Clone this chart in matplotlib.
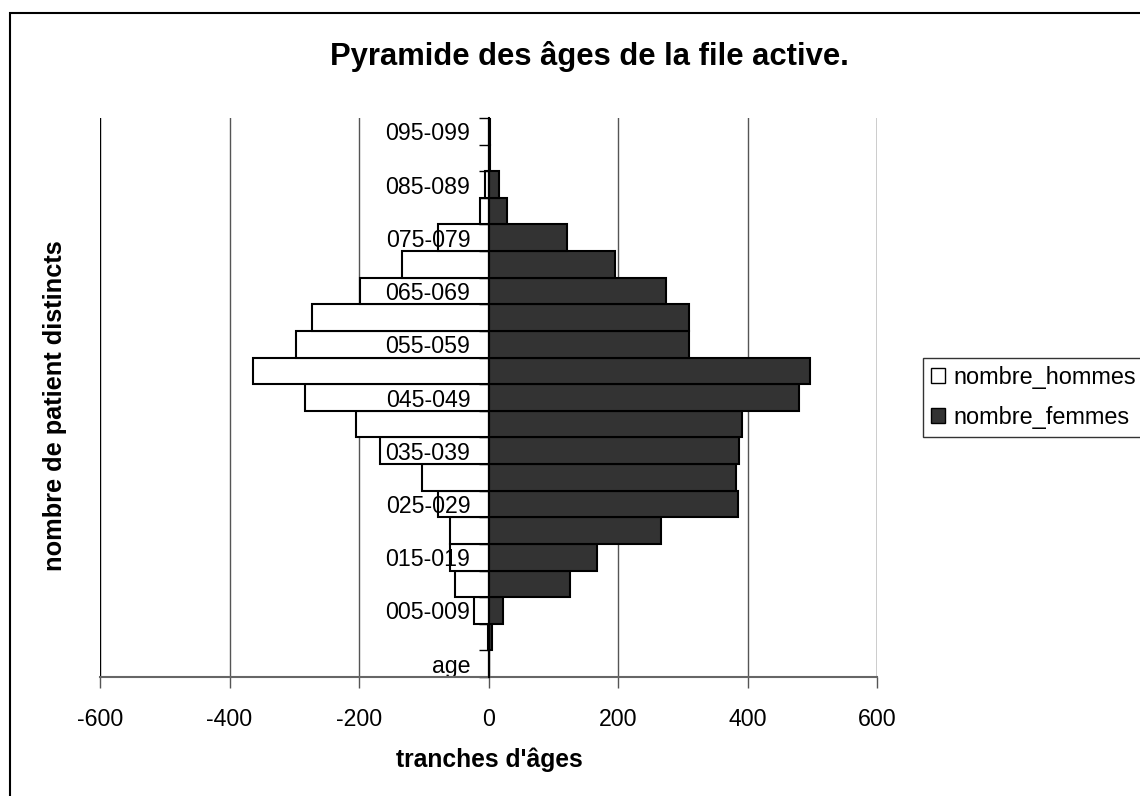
import matplotlib.pyplot as plt
import numpy as np
from matplotlib.patches import Patch, Rectangle

plt.rcParams['font.family'] = ['Liberation Sans', 'DejaVu Sans']

# age groups, bottom to top
tranches = ['age', '000-004', '005-009', '010-014', '015-019', '020-024',
            '025-029', '030-034', '035-039', '040-044', '045-049', '050-054',
            '055-059', '060-064', '065-069', '070-074', '075-079', '080-084',
            '085-089', '090-094', '095-099']
nombre_hommes = [0, -1, -22, -51, -59, -60, -78, -103, -167, -205, -283,
                 -364, -297, -272, -199, -133, -78, -13, -5, 0, 0]
nombre_femmes = [0, 5, 22, 126, 168, 266, 385, 382, 387, 391, 480,
                 496, 310, 310, 274, 195, 121, 28, 16, 2, 3]
xticks = [-600, -400, -200, 0, 200, 400, 600]

W, H = 1140, 796
fig = plt.figure(figsize=(W / 100, H / 100), dpi=100)
ax = fig.add_axes([100 / W, (H - 677) / H, 777 / W, 559 / H])

y = np.arange(len(tranches))
ax.barh(y, nombre_hommes, height=1.0, color='white', edgecolor='black',
        linewidth=1.5, zorder=1, label='nombre_hommes')
ax.barh(y, nombre_femmes, height=1.0, color='#333333', edgecolor='black',
        linewidth=1.5, zorder=1, label='nombre_femmes')

# vertical gridlines behind the bars
for v in xticks:
    c = 'black' if abs(v) == 600 else '#555555'
    ax.axvline(v, color=c, lw=1.0, zorder=0.5)

ax.set_xlim(-600, 600)
ax.set_ylim(-0.5, len(tranches) - 0.5)
ax.set_xticks(xticks)
ax.set_xticklabels([str(v) for v in xticks], fontsize=16.7)
ax.tick_params(axis='x', length=8, width=1, color='#555555', pad=14)

# category axis sits at x = 0, labels every other group
ax.spines['left'].set_position(('data', 0))
ax.spines['left'].set_linewidth(1.5)
ax.spines['left'].set_zorder(3)
ax.spines['right'].set_visible(False)
ax.spines['top'].set_visible(False)
ax.spines['bottom'].set_color('#666666')
ax.spines['bottom'].set_linewidth(1.5)
ax.set_yticks(y[::2])
ax.set_yticklabels(tranches[::2], fontsize=16.7)
ax.set_yticks(np.arange(-0.5, len(tranches)), minor=True)
ax.tick_params(axis='y', which='major', length=0, pad=13)
ax.tick_params(axis='y', which='minor', length=7, width=1)

fig.text(589 / W, (H - 57) / H, 'Pyramide des âges de la file active.',
         ha='center', va='center', fontsize=22.3, fontweight='bold')
fig.text(489 / W, (H - 760) / H, "tranches d'âges",
         ha='center', va='center', fontsize=17.7, fontweight='bold')
fig.text(55 / W, (H - 406) / H, 'nombre de patient distincts',
         ha='center', va='center', rotation=90, fontsize=18.3,
         fontweight='bold')

handles = [Patch(facecolor='white', edgecolor='black', label='nombre_hommes'),
           Patch(facecolor='#333333', edgecolor='black', label='nombre_femmes')]
leg = fig.legend(handles=handles, loc='upper left',
                 bbox_to_anchor=(923 / W, (H - 358) / H), fontsize=16.9,
                 frameon=True, fancybox=False, borderaxespad=0,
                 handlelength=0.6, handleheight=0.6, handletextpad=0.35,
                 borderpad=0.35, labelspacing=0.7)
leg.get_frame().set_edgecolor('black')
leg.get_frame().set_linewidth(1.0)

# outer chart frame (runs off the right and bottom edges)
fig.patches.append(Rectangle((10.5 / W, -0.1), 1.2, (H - 12.5) / H + 0.1,
                             transform=fig.transFigure, fill=False,
                             edgecolor='black', linewidth=1.5))

fig.savefig('out.png', dpi=100)
